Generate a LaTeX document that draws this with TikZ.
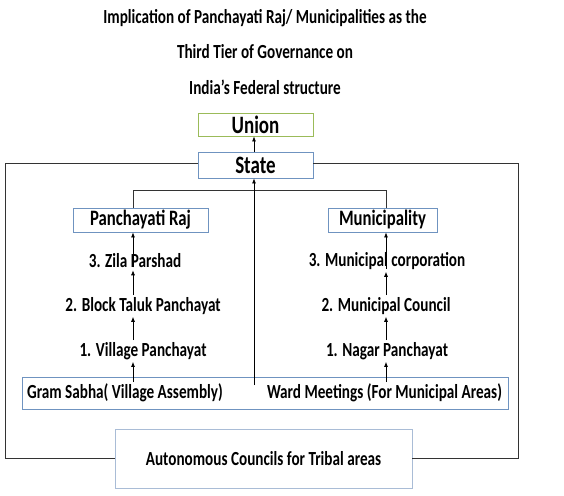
\documentclass[tikz,border=0pt]{standalone}
\usepackage{fontspec}
\setmainfont{Carlito}[FakeStretch=0.76]
\usetikzlibrary{arrows.meta}
\definecolor{boxblue}{HTML}{6F93C0}
\definecolor{boxgreen}{HTML}{9BBB59}
\definecolor{autoblue}{HTML}{A9BCD6}
\definecolor{frame}{HTML}{333333}
\tikzset{
  ttl/.style={font=\bfseries\fontsize{20}{22}\selectfont, inner sep=0pt},
  lvl/.style={font=\bfseries\fontsize{20}{22}\selectfont, inner sep=2pt},
  hbox/.style={draw=boxblue, line width=0.9pt, minimum height=24pt, inner sep=0pt, font=\bfseries\fontsize{22}{24}\selectfont},
  arr/.style={-{Latex[length=5pt,width=4pt]}, line width=0.7pt, black},
  ln/.style={line width=0.8pt, frame},
}
\begin{document}
\begin{tikzpicture}[x=1pt,y=-1pt]
\useasboundingbox (0,0) rectangle (564,495);
% title
\node[ttl] (t1) at (265,18) {Implication of Panchayati Raj/ Municipalities as the};
\node[ttl] (t2) at (265,52) {Third Tier of Governance on};
\node[ttl] (t3) at (265,87) {India’s Federal structure};
% top boxes
\node[hbox, draw=boxgreen, minimum width=115pt, minimum height=23pt, font=\bfseries\fontsize{25}{27}\selectfont] (union) at (255.5,124.5) {Union};
\node[hbox, minimum width=115pt, minimum height=26pt, font=\bfseries\fontsize{25}{27}\selectfont] (state) at (255.5,165) {State};
\node[hbox, minimum width=135pt] (pr) at (140.5,220) {Panchayati Raj};
\node[hbox, minimum width=109pt] (muni) at (382.5,220) {Municipality};
% levels
\node[lvl] (zila) at (135,261) {3. Zila Parshad};
\node[lvl] (block) at (143,306) {2. Block Taluk Panchayat};
\node[lvl] (village) at (143,351) {1. Village Panchayat};
\node[lvl] (corp) at (387,261) {3. Municipal corporation};
\node[lvl] (council) at (386,306) {2. Municipal Council};
\node[lvl] (nagar) at (387,351) {1. Nagar Panchayat};
% base box
\node[draw=boxblue, line width=0.9pt, minimum width=486pt, minimum height=32pt, inner sep=0pt] (gram) at (265,393) {};
\node[lvl] (gs) at (125,393) {Gram Sabha( Village Assembly)};
\node[lvl] (wm) at (384.5,393) {Ward Meetings (For Municipal Areas)};
\node[draw=autoblue, line width=0.9pt, minimum width=297pt, minimum height=59pt, inner sep=0pt, font=\bfseries\fontsize{20}{22}\selectfont] (auto) at (263.5,458.5) {Autonomous Councils for Tribal areas};
% coordinates
\coordinate (fl) at (5,163);
\coordinate (fr) at (518,163);
\coordinate (tl) at (133,190);
\coordinate (tr) at (386,190);
\coordinate (c0) at (254,385);
\coordinate (gl) at (133,382);
\coordinate (gr) at (386,382);
% frame
\draw[ln] (state.west |- fl) -- (fl) |- (auto.west);
\draw[ln] (state.east |- fr) -- (fr) |- (auto.east);
% tree
\draw[ln] (pr.north -| tl) -- (tl) -- (tr) -- (muni.north -| tr);
% central arrows
\draw[arr] (c0) -- (state.south -| c0);
\draw[arr] (state.north -| c0) -- (union.south -| c0);
% left chain
\draw[arr] (gl) -- (village.south -| gl);
\draw[arr] (village.north -| gl) -- (block.south -| gl);
\draw[arr] (block.north -| gl) -- (zila.south -| gl);
\draw[arr] (zila.south -| gl) ++(0,-3) -- (pr.south -| gl);
% right chain
\draw[arr] (gr) -- (nagar.south -| gr);
\draw[arr] (nagar.north -| gr) -- (council.south -| gr);
\draw[arr] (council.north -| gr) -- (corp.south -| gr);
\draw[arr] (corp.south -| gr) ++(0,-3) -- (muni.south -| gr);
\end{tikzpicture}
\end{document}
